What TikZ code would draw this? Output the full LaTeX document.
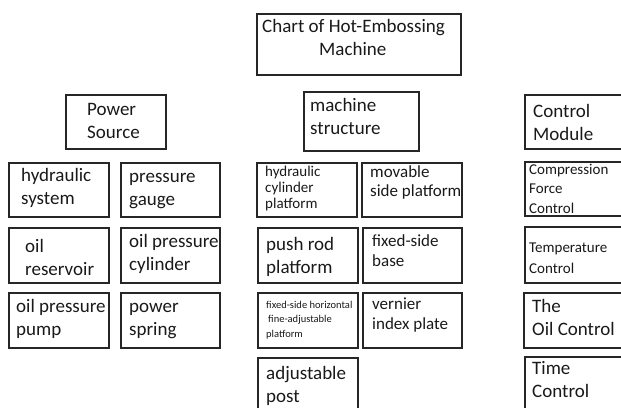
\documentclass[tikz,border=0pt]{standalone}
\usepackage{fontspec}
\setmainfont{Carlito}
\usetikzlibrary{fit}
\newcommand\tb[1]{\begin{tabular}[t]{@{}l@{}}#1\end{tabular}}
\tikzset{
  box/.style={draw=black!85, line width=1.1pt, inner sep=0pt, rectangle},
  txt/.style={anchor=base west, inner sep=0pt, text=black!90},
  big/.style={txt, font=\fontsize{19}{23}\selectfont},
}
\begin{document}
\begin{tikzpicture}[x=1pt,y=-1pt]
\useasboundingbox (0,0) rectangle (621,407);
\clip (0,0) rectangle (621,407);
% boxes
\node[box, fit={(257,14)(461,75)}] (title) {};
\node[box, fit={(66,95)(166,149)}] (ps) {};
\node[box, fit={(9,163)(109,217)}] (hs) {};
\node[box, fit={(121,163)(220,217)}] (pg) {};
\node[box, fit={(9,228)(109,283)}] (or) {};
\node[box, fit={(121,228)(220,283)}] (opc) {};
\node[box, fit={(9,293)(109,348)}] (opp) {};
\node[box, fit={(121,293)(220,348)}] (psp) {};
\node[box, fit={(304,92)(419,151)}] (ms) {};
\node[box, fit={(257,163)(357,217)}] (hcp) {};
\node[box, fit={(362,163)(462,217)}] (msp) {};
\node[box, fit={(258,228)(358,283)}] (prp) {};
\node[box, fit={(363,228)(462,283)}] (fsb) {};
\node[box, fit={(258,293)(358,348)}] (fsh) {};
\node[box, fit={(363,293)(462,348)}] (vip) {};
\node[box, fit={(258,358)(358,420)}] (ap) {};
\node[box, fit={(525,95)(630,149)}] (cm) {};
\node[box, fit={(525,162)(630,216)}] (cfc) {};
\node[box, fit={(525,227)(630,283)}] (tc) {};
\node[box, fit={(524,293)(630,348)}] (oc) {};
\node[box, fit={(525,357)(630,420)}] (tic) {};
% texts
\node[big] (titleT) at (262,32) {\tb{Chart of Hot-Embossing\\\hspace*{57pt}Machine}};
\node[big] (psT) at (87,115) {\tb{Power\\Source}};
\node[big] (hsT) at (21,181) {\tb{hydraulic\\system}};
\node[big] (pgT) at (129,182) {\tb{pressure\\gauge}};
\node[big] (orT) at (25,252) {\tb{oil\\reservoir}};
\node[big] (opcT) at (129,247) {\tb{oil pressure\\cylinder}};
\node[big] (oppT) at (16,312) {\tb{oil pressure\\pump}};
\node[big] (pspT) at (129,312) {\tb{power\\spring}};
\node[big] (msT) at (310,111) {\tb{machine\\structure}};
\node[txt, font=\fontsize{15}{16}\selectfont] (hcpT) at (265,176) {\tb{hydraulic\\cylinder\\platform}};
\node[txt, font=\fontsize{17}{19}\selectfont] (mspT) at (370,177) {\tb{movable\\side platform}};
\node[big] (prpT) at (266,250) {\tb{push rod\\platform}};
\node[txt, font=\fontsize{17}{20}\selectfont] (fsbT) at (372,246) {\tb{fixed-side\\base}};
\node[txt, font=\fontsize{10.5}{14.5}\selectfont] (fshT) at (266,308) {\tb{fixed-side horizontal\\\hspace*{2pt}fine-adjustable\\platform}};
\node[txt, font=\fontsize{17}{20}\selectfont] (vipT) at (372,309) {\tb{vernier\\index plate}};
\node[big] (apT) at (266,379) {\tb{adjustable\\post}};
\node[big] (cmT) at (533,117) {\tb{Control\\Module}};
\node[txt, font=\fontsize{15}{19.5}\selectfont] (cfcT) at (529,174) {\tb{Compression\\Force\\Control}};
\node[txt, font=\fontsize{15}{21}\selectfont] (tcT) at (529,252) {\tb{Temperature\\Control}};
\node[big] (ocT) at (532,312) {\tb{The\\Oil Control}};
\node[big] (ticT) at (532,374) {\tb{Time\\Control}};
\end{tikzpicture}
\end{document}
